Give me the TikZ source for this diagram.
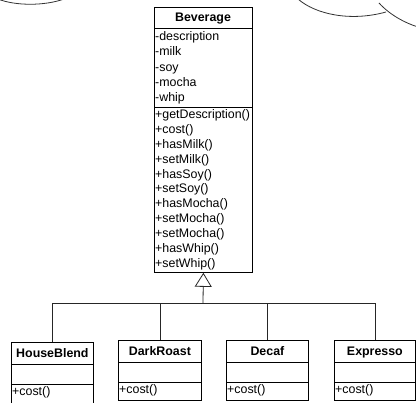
\documentclass[tikz,border=0pt]{standalone}
\usepackage{fontspec}
\setmainfont{Liberation Sans}
\usetikzlibrary{arrows.meta}
\newcommand{\umlfont}{\fontsize{12.4pt}{14pt}\selectfont}
\tikzset{
  cls/.style={draw=black, line width=0.8pt, inner sep=0pt, anchor=north west},
  sep/.style={draw=black, line width=0.8pt},
  ttl/.style={font=\umlfont\bfseries, inner sep=0pt, anchor=base},
  lbl/.style={font=\umlfont, inner sep=0pt, anchor=base west},
  link/.style={draw=black!85, line width=0.8pt},
  inherit/.style={link, -{Triangle[open, width=17pt, length=14pt]}},
  cloud/.style={draw=black!80, line width=0.8pt},
}
\begin{document}
\begin{tikzpicture}[x=1pt, y=-1pt]
\useasboundingbox[fill=white] (0,0) rectangle (416,403);

% cloud edges peeking in at the top
\draw[cloud] (-2,-1) .. controls (15,6) and (45,6) .. (64,-1);
\draw[cloud] (298,-1) .. controls (315,14) and (350,22) .. (386,12);
\draw[cloud] (379,3) .. controls (390,15) and (405,23) .. (418,27);

% superclass
\node[cls, minimum width=98pt, minimum height=265pt] (bev) at (154,7) {};
\draw[sep] ([yshift=-21pt]bev.north west) -- ([yshift=-21pt]bev.north east);
\draw[sep] ([yshift=-100pt]bev.north west) -- ([yshift=-100pt]bev.north east);
\node[ttl] (bevT) at (203,21.5) {Beverage};
\foreach \t [count=\i from 0] in {-description,-milk,-soy,-mocha,-whip}
  \node[lbl] (bevA\i) at (155,40.5+15.3*\i) {\t};
\foreach \t [count=\i from 0] in {+getDescription(),+cost(),+hasMilk(),+setMilk(),+hasSoy(),+setSoy(),+hasMocha(),+setMocha(),+setMocha(),+hasWhip(),+setWhip()}
  \node[lbl] (bevM\i) at (155,118.5+14.9*\i) {\t};

% subclasses
\node[cls, minimum width=82pt, minimum height=66pt] (hb) at (11,342) {};
\node[cls, minimum width=83pt, minimum height=60pt] (dr) at (118,340) {};
\node[cls, minimum width=82pt, minimum height=60pt] (dc) at (226,340) {};
\node[cls, minimum width=81pt, minimum height=60pt] (ex) at (334,340) {};
\foreach \c/\n in {hb/HouseBlend,dr/DarkRoast,dc/Decaf,ex/Expresso}{
  \draw[sep] ([yshift=-22pt]\c.north west) -- ([yshift=-22pt]\c.north east);
  \draw[sep] ([yshift=-42pt]\c.north west) -- ([yshift=-42pt]\c.north east);
  \node[ttl] (\c T) at ([yshift=-15.5pt]\c.north) {\n};
  \node[lbl] (\c M) at ([xshift=1pt, yshift=-53.5pt]\c.north west) {+cost()};
}

% generalization
\coordinate (j) at (203,303);
\draw[link] (hb.north) -- (hb.north |- j) -- (ex.north |- j) -- (ex.north);
\draw[link] (dr.north) -- (dr.north |- j);
\draw[link] (dc.north) -- (dc.north |- j);
\draw[inherit] (j) -- (bev.south);
\end{tikzpicture}
\end{document}
